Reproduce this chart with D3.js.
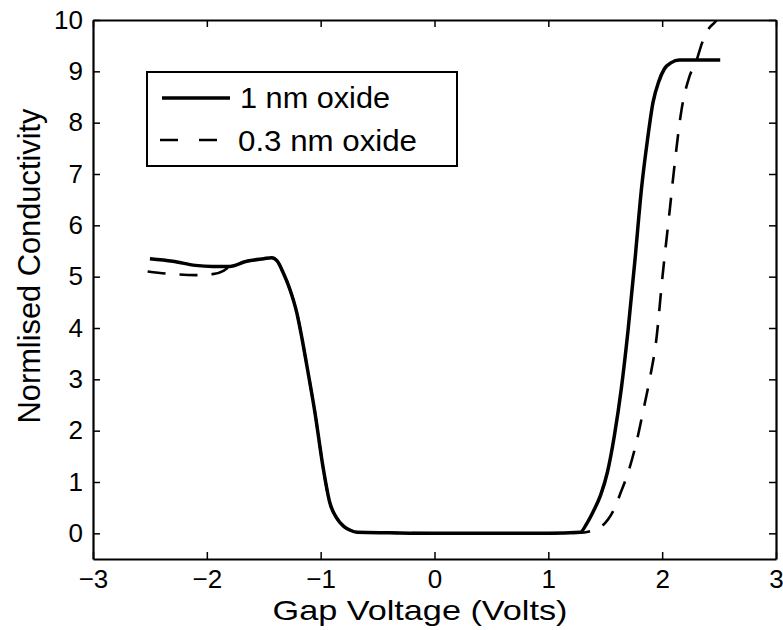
<!DOCTYPE html>
<html>
<head>
<meta charset="utf-8">
<script src="https://cdn.jsdelivr.net/npm/d3@7"></script>
<style>
  body { margin: 0; background: #fff; }
  text { font-family: "Liberation Sans", Arial, sans-serif; fill: #000; }
</style>
</head>
<body>
<div id="chart"></div>
<script>
// 1 nm oxide (solid)
const voltsThick = [-2.5, -2.3, -2.1, -1.95, -1.8, -1.65, -1.5, -1.43, -1.38, -1.33, -1.27, -1.21, -1.16, -1.12, -1.05, -0.98, -0.92, -0.86, -0.8, -0.74, -0.68, -0.4, 0, 0.5, 1.0, 1.28, 1.34, 1.4, 1.46, 1.52, 1.58, 1.64, 1.7, 1.76, 1.82, 1.87, 1.92, 1.97, 2.02, 2.08, 2.15, 2.3, 2.51];
const condThick  = [5.35, 5.3, 5.22, 5.2, 5.2, 5.3, 5.35, 5.37, 5.3, 5.08, 4.75, 4.3, 3.75, 3.25, 2.35, 1.3, 0.6, 0.3, 0.14, 0.06, 0.02, 0.01, 0, 0, 0, 0.02, 0.2, 0.45, 0.75, 1.2, 1.9, 2.8, 3.95, 5.3, 6.75, 7.65, 8.4, 8.8, 9.05, 9.17, 9.22, 9.22, 9.22];

// 0.3 nm oxide (dashed)
const voltsThin = [-2.52, -2.3, -2.1, -1.95, -1.85, -1.8, -1.65, -1.5, -1.43, -1.38, -1.33, -1.27, -1.21, -1.16, -1.12, -1.05, -0.98, -0.92, -0.86, -0.8, -0.74, -0.68, -0.4, 0, 0.5, 1.0, 1.28, 1.35, 1.47, 1.59, 1.63, 1.7, 1.78, 1.83, 1.89, 1.95, 2.0, 2.07, 2.11, 2.17, 2.24, 2.3, 2.35, 2.4, 2.46, 2.52];
const condThin  = [5.1, 5.05, 5.03, 5.05, 5.12, 5.2, 5.3, 5.35, 5.37, 5.3, 5.08, 4.75, 4.3, 3.75, 3.25, 2.35, 1.3, 0.6, 0.3, 0.14, 0.06, 0.02, 0.01, 0, 0, 0, 0.01, 0.03, 0.14, 0.53, 0.76, 1.18, 1.83, 2.35, 3.0, 3.8, 4.94, 6.37, 7.2, 8.25, 8.9, 9.2, 9.55, 9.8, 9.95, 10.1];

const xTicks = [-3, -2, -1, 0, 1, 2, 3];
const yTicks = [0, 1, 2, 3, 4, 5, 6, 7, 8, 9, 10];
const legendLabels = ["1 nm oxide", "0.3 nm oxide"];

const W = 783, H = 630;
const margin = { left: 93, right: 776, top: 20, bottom: 559 };

const svg = d3.select("#chart").append("svg")
    .attr("width", W)
    .attr("height", H);

const x = d3.scaleLinear().domain([-3, 3]).range([margin.left, margin.right]);
const y = d3.scaleLinear().domain([-0.5, 10]).range([margin.bottom, margin.top]);
const fmt = d3.format("d");

svg.append("clipPath").attr("id", "plot")
  .append("rect")
    .attr("x", margin.left).attr("y", margin.top)
    .attr("width", margin.right - margin.left).attr("height", margin.bottom - margin.top);

// axes, matlab style: ticks inward on all four sides
function styleAxis(g) {
    g.select(".domain").attr("stroke-width", 2.2);
    g.selectAll(".tick line").attr("stroke-width", 1.5);
    g.selectAll("text").style("font-size", "26px").attr("font-family", null);
}

svg.append("g")
    .attr("transform", `translate(0,${margin.bottom})`)
    .call(d3.axisBottom(x).tickValues(xTicks).tickFormat(fmt).tickSize(-7).tickSizeOuter(0).tickPadding(11))
    .call(styleAxis);

svg.append("g")
    .attr("transform", `translate(0,${margin.top})`)
    .call(d3.axisTop(x).tickValues(xTicks).tickSize(-7).tickSizeOuter(0).tickFormat(""))
    .call(styleAxis);

svg.append("g")
    .attr("transform", `translate(${margin.left},0)`)
    .call(d3.axisLeft(y).tickValues(yTicks).tickFormat(fmt).tickSize(-7).tickSizeOuter(0).tickPadding(10))
    .call(styleAxis);

svg.append("g")
    .attr("transform", `translate(${margin.right},0)`)
    .call(d3.axisRight(y).tickValues(yTicks).tickSize(-7).tickSizeOuter(0).tickFormat(""))
    .call(styleAxis);

// curves
const line = d3.line()
    .x(d => x(d[0]))
    .y(d => y(d[1]))
    .curve(d3.curveMonotoneX);

const thick = voltsThick.map((v, i) => [v, condThick[i]]);
const thin = voltsThin.map((v, i) => [v, condThin[i]]);

svg.append("path")
    .datum(thin)
    .attr("clip-path", "url(#plot)")
    .attr("d", line)
    .attr("fill", "none")
    .attr("stroke", "#000")
    .attr("stroke-width", 2.6)
    .attr("stroke-dasharray", "18,14");

svg.append("path")
    .datum(thick)
    .attr("clip-path", "url(#plot)")
    .attr("d", line)
    .attr("fill", "none")
    .attr("stroke", "#000")
    .attr("stroke-width", 3.5);

// legend
const leg = svg.append("g");
leg.append("rect")
    .attr("x", 147).attr("y", 72)
    .attr("width", 310).attr("height", 94)
    .attr("fill", "#fff")
    .attr("stroke", "#000")
    .attr("stroke-width", 2);

leg.append("line")
    .attr("x1", 162).attr("x2", 230)
    .attr("y1", 98).attr("y2", 98)
    .attr("stroke", "#000").attr("stroke-width", 3.5);

leg.append("line")
    .attr("x1", 160).attr("x2", 218)
    .attr("y1", 140).attr("y2", 140)
    .attr("stroke", "#000").attr("stroke-width", 2.6)
    .attr("stroke-dasharray", "18,21");

leg.append("text")
    .attr("x", 240).attr("y", 108)
    .style("font-size", "29px")
    .attr("textLength", 150)
    .attr("lengthAdjust", "spacingAndGlyphs")
    .text(legendLabels[0]);

leg.append("text")
    .attr("x", 238).attr("y", 151)
    .style("font-size", "29px")
    .attr("textLength", 179)
    .attr("lengthAdjust", "spacingAndGlyphs")
    .text(legendLabels[1]);

// axis titles
svg.append("text")
    .attr("x", 420).attr("y", 620)
    .attr("text-anchor", "middle")
    .style("font-size", "28px")
    .attr("textLength", 295)
    .attr("lengthAdjust", "spacingAndGlyphs")
    .text("Gap Voltage (Volts)");

svg.append("text")
    .attr("transform", "translate(40,266) rotate(-90)")
    .attr("text-anchor", "middle")
    .style("font-size", "31px")
    .attr("textLength", 315)
    .attr("lengthAdjust", "spacingAndGlyphs")
    .text("Normlised Conductivity");
</script>
</body>
</html>
